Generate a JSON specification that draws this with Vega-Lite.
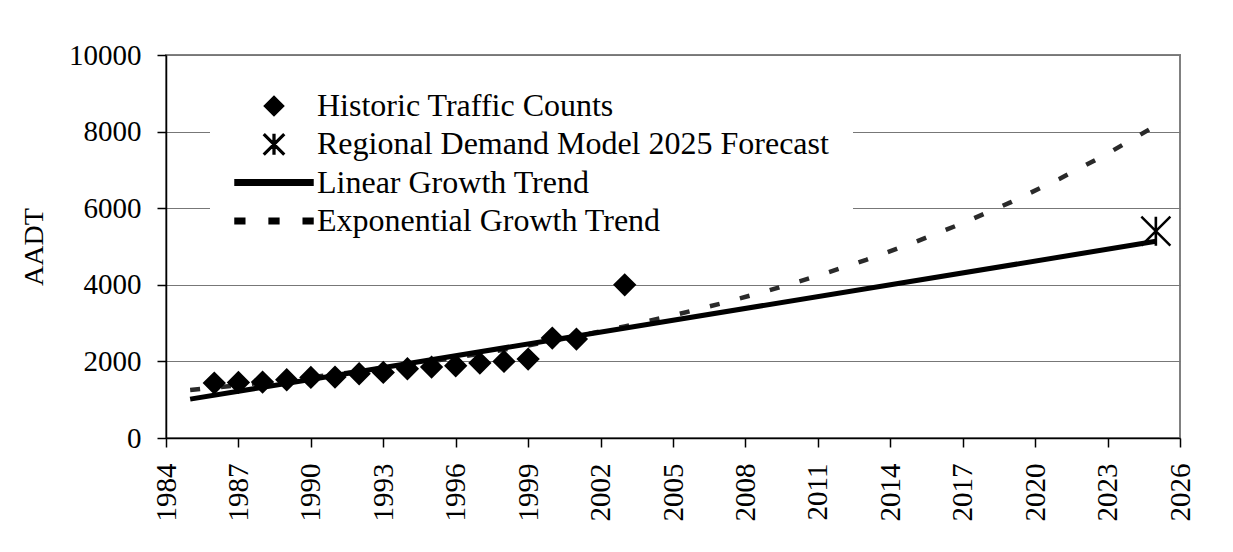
{
  "$schema": "https://vega.github.io/schema/vega-lite/v6.json",
  "width": 1014,
  "height": 383,
  "autosize": {"type": "none"},
  "padding": {"left": 166, "top": 55, "right": 53, "bottom": 114},
  "background": "white",
  "config": {
    "font": "Liberation Serif",
    "view": {"stroke": "#808080", "strokeWidth": 2},
    "axis": {
      "labelFont": "Liberation Serif",
      "titleFont": "Liberation Serif",
      "labelColor": "black",
      "titleColor": "black",
      "tickColor": "black",
      "domainColor": "black",
      "labelFontSize": 29,
      "titleFontSize": 28,
      "titleFontWeight": "normal",
      "tickSize": 9,
      "domainWidth": 1.5,
      "tickWidth": 1.5,
      "gridColor": "#777777",
      "gridWidth": 1,
      "gridOpacity": 1
    }
  },
  "datasets": {
    "traffic": [
      {"series": "Historic Traffic Counts", "year": 1986, "aadt": 1435},
      {"series": "Historic Traffic Counts", "year": 1987, "aadt": 1452},
      {"series": "Historic Traffic Counts", "year": 1988, "aadt": 1461},
      {"series": "Historic Traffic Counts", "year": 1989, "aadt": 1521},
      {"series": "Historic Traffic Counts", "year": 1990, "aadt": 1581},
      {"series": "Historic Traffic Counts", "year": 1991, "aadt": 1590},
      {"series": "Historic Traffic Counts", "year": 1992, "aadt": 1678},
      {"series": "Historic Traffic Counts", "year": 1993, "aadt": 1713},
      {"series": "Historic Traffic Counts", "year": 1994, "aadt": 1808},
      {"series": "Historic Traffic Counts", "year": 1995, "aadt": 1852},
      {"series": "Historic Traffic Counts", "year": 1996, "aadt": 1887},
      {"series": "Historic Traffic Counts", "year": 1997, "aadt": 1957},
      {"series": "Historic Traffic Counts", "year": 1998, "aadt": 2000},
      {"series": "Historic Traffic Counts", "year": 1999, "aadt": 2061},
      {"series": "Historic Traffic Counts", "year": 2000, "aadt": 2609},
      {"series": "Historic Traffic Counts", "year": 2001, "aadt": 2583},
      {"series": "Historic Traffic Counts", "year": 2003, "aadt": 4000},
      {"series": "Regional Demand Model 2025 Forecast", "year": 2025, "aadt": 5400},
      {"series": "Linear Growth Trend", "year": 1985, "aadt": 1015},
      {"series": "Linear Growth Trend", "year": 2025, "aadt": 5135},
      {"series": "Exponential Growth Trend", "year": 1985, "aadt": 1255},
      {"series": "Exponential Growth Trend", "year": 1987, "aadt": 1378},
      {"series": "Exponential Growth Trend", "year": 1989, "aadt": 1513},
      {"series": "Exponential Growth Trend", "year": 1991, "aadt": 1662},
      {"series": "Exponential Growth Trend", "year": 1993, "aadt": 1825},
      {"series": "Exponential Growth Trend", "year": 1995, "aadt": 2004},
      {"series": "Exponential Growth Trend", "year": 1997, "aadt": 2200},
      {"series": "Exponential Growth Trend", "year": 1999, "aadt": 2416},
      {"series": "Exponential Growth Trend", "year": 2001, "aadt": 2653},
      {"series": "Exponential Growth Trend", "year": 2003, "aadt": 2913},
      {"series": "Exponential Growth Trend", "year": 2005, "aadt": 3199},
      {"series": "Exponential Growth Trend", "year": 2007, "aadt": 3513},
      {"series": "Exponential Growth Trend", "year": 2009, "aadt": 3857},
      {"series": "Exponential Growth Trend", "year": 2011, "aadt": 4236},
      {"series": "Exponential Growth Trend", "year": 2013, "aadt": 4651},
      {"series": "Exponential Growth Trend", "year": 2015, "aadt": 5108},
      {"series": "Exponential Growth Trend", "year": 2017, "aadt": 5609},
      {"series": "Exponential Growth Trend", "year": 2019, "aadt": 6159},
      {"series": "Exponential Growth Trend", "year": 2021, "aadt": 6763},
      {"series": "Exponential Growth Trend", "year": 2023, "aadt": 7426},
      {"series": "Exponential Growth Trend", "year": 2025, "aadt": 8155}
    ]
  },
  "data": {"name": "traffic"},
  "encoding": {
    "x": {
      "field": "year",
      "type": "quantitative",
      "scale": {"domain": [1984, 2026], "nice": false, "zero": false},
      "axis": {
        "values": [1984, 1987, 1990, 1993, 1996, 1999, 2002, 2005, 2008, 2011, 2014, 2017, 2020, 2023, 2026],
        "format": "d",
        "labelAngle": -90,
        "grid": false,
        "title": null,
        "labelPadding": 16
      }
    },
    "y": {
      "field": "aadt",
      "type": "quantitative",
      "scale": {"domain": [0, 10000], "nice": false},
      "axis": {
        "values": [0, 2000, 4000, 6000, 8000, 10000],
        "format": "d",
        "title": "AADT",
        "labelPadding": 16,
        "titlePadding": 20
      }
    }
  },
  "layer": [
    {
      "transform": [{"filter": "datum.series === 'Exponential Growth Trend'"}],
      "mark": {"type": "line", "stroke": "#2a2a2a", "strokeWidth": 4.5, "strokeDash": [10, 21]},
      "encoding": {}
    },
    {
      "transform": [{"filter": "datum.series === 'Linear Growth Trend'"}],
      "mark": {"type": "line", "stroke": "black", "strokeWidth": 5},
      "encoding": {}
    },
    {
      "transform": [{"filter": "datum.series === 'Historic Traffic Counts'"}],
      "mark": {"type": "point", "filled": true, "fill": "black", "stroke": "black", "strokeWidth": 2, "opacity": 1, "size": 420},
      "encoding": {
        "shape": {
          "field": "series",
          "type": "nominal",
          "scale": {
            "domain": ["Historic Traffic Counts", "Regional Demand Model 2025 Forecast", "Linear Growth Trend", "Exponential Growth Trend"],
            "range": [
              "diamond",
              "M-0.94,-1.06L1.06,0.94L0.94,1.06L-1.06,-0.94ZM1.06,-0.94L-0.94,1.06L-1.06,0.94L0.94,-1.06ZM-0.09,-1L0.09,-1L0.09,1L-0.09,1Z",
              "M-4,-0.28L4,-0.28L4,0.28L-4,0.28Z",
              "M-4,-0.28L-3,-0.28L-3,0.28L-4,0.28ZM-0.5,-0.28L0.5,-0.28L0.5,0.28L-0.5,0.28ZM3,-0.28L4,-0.28L4,0.28L3,0.28Z"
            ]
          },
          "legend": {
            "title": null,
            "orient": "none",
            "legendX": 44,
            "legendY": 11,
            "fillColor": "white",
            "padding": 24,
            "symbolOffset": 24,
            "labelOffset": 27,
            "rowPadding": 6.3,
            "labelFont": "Liberation Serif",
            "labelFontSize": 32,
            "labelColor": "black",
            "labelLimit": 0,
            "symbolSize": 380,
            "symbolFillColor": "black",
            "symbolOpacity": 1
          }
        }
      }
    },
    {
      "transform": [{"filter": "datum.series === 'Regional Demand Model 2025 Forecast'"}],
      "mark": {"type": "point", "filled": true, "fill": "black", "strokeWidth": 0, "opacity": 1, "size": 841},
      "encoding": {
        "shape": {"field": "series", "type": "nominal"}
      }
    }
  ]
}
